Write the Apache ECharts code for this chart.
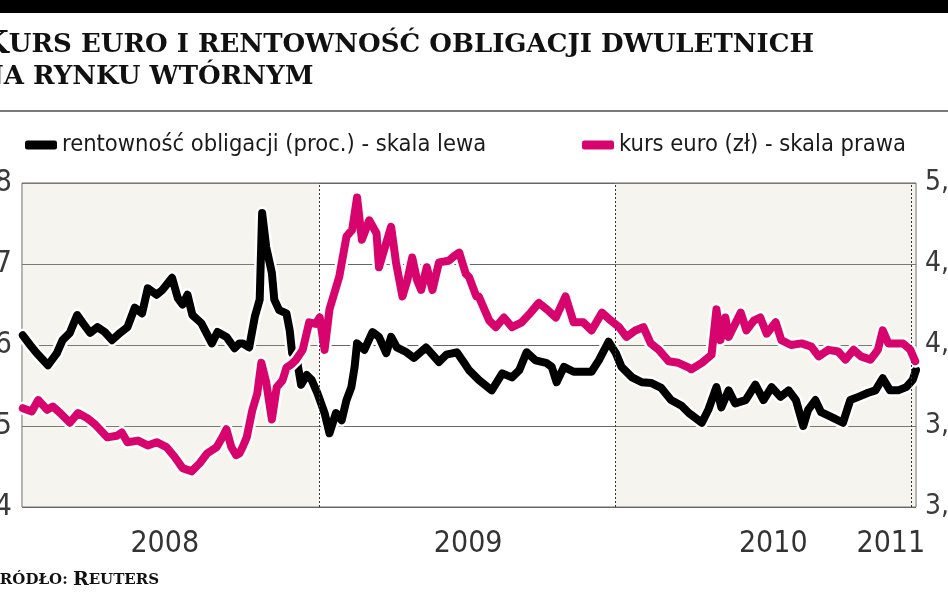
<!DOCTYPE html>
<html>
<head>
<meta charset="utf-8">
<script src="https://cdn.jsdelivr.net/npm/echarts@6/dist/echarts.min.js"></script>
<style>
html,body{margin:0;padding:0;background:#fff;}
#chart{width:948px;height:593px;}
</style>
</head>
<body>
<div id="chart"></div>
<script>
// ---- data ----
var yieldName = 'rentowność obligacji (proc.) - skala lewa';
var eurName = 'kurs euro (zł) - skala prawa';

var yieldDates = ['2008-01-02','2008-01-11','2008-01-19','2008-02-02','2008-02-13','2008-02-20','2008-02-29','2008-03-09','2008-03-16','2008-03-25',
'2008-04-03','2008-04-12','2008-04-21','2008-05-01','2008-05-10','2008-05-19','2008-05-28','2008-06-04','2008-06-15','2008-06-22',
'2008-07-04','2008-07-11','2008-07-17','2008-07-23','2008-07-29','2008-08-09','2008-08-22','2008-08-29','2008-09-09','2008-09-19',
'2008-09-25','2008-09-29','2008-10-07','2008-10-14','2008-10-20','2008-10-23','2008-10-28','2008-11-04','2008-11-07','2008-11-13',
'2008-11-22','2008-11-26','2008-11-29','2008-12-05','2008-12-10','2008-12-17','2008-12-23','2008-12-30','2009-01-08','2009-01-14',
'2009-01-22','2009-01-29','2009-02-04','2009-02-10','2009-02-14','2009-02-17','2009-02-26','2009-03-08','2009-03-16','2009-03-25',
'2009-03-31','2009-04-07','2009-04-19','2009-04-28','2009-05-13','2009-05-29','2009-06-07','2009-06-20','2009-06-29','2009-07-05',
'2009-07-17','2009-08-02','2009-08-15','2009-08-27','2009-09-05','2009-09-14','2009-09-25','2009-10-08','2009-10-15','2009-10-21',
'2009-10-30','2009-11-11','2009-11-23','2009-12-03','2009-12-12','2009-12-24','2010-01-02','2010-01-09','2010-01-22','2010-02-03',
'2010-02-15','2010-02-27','2010-03-11','2010-03-24','2010-04-02','2010-04-18','2010-04-26','2010-05-06','2010-05-12','2010-05-21',
'2010-05-29','2010-06-11','2010-06-23','2010-07-03','2010-07-13','2010-07-24','2010-08-03','2010-08-12','2010-08-21','2010-08-27',
'2010-09-05','2010-09-12','2010-09-25','2010-10-09','2010-10-18','2010-10-28','2010-11-09','2010-11-18','2010-11-27','2010-12-06',
'2010-12-16','2010-12-26','2011-01-03','2011-01-07'];
var yieldValues = [6.12,6.00,5.90,5.75,5.90,6.06,6.15,6.37,6.27,6.15,
6.22,6.16,6.06,6.15,6.22,6.46,6.39,6.70,6.62,6.68,
6.83,6.58,6.50,6.62,6.37,6.27,6.02,6.16,6.10,5.96,
6.02,6.02,5.97,6.35,6.56,7.63,7.21,6.89,6.56,6.43,
6.39,6.18,5.90,5.81,5.51,5.63,5.57,5.41,5.16,4.91,
5.16,5.07,5.32,5.48,5.73,6.02,5.94,6.16,6.10,5.90,
6.10,5.97,5.91,5.84,5.97,5.79,5.88,5.91,5.78,5.69,
5.57,5.44,5.65,5.60,5.69,5.91,5.81,5.78,5.73,5.54,
5.73,5.67,5.67,5.67,5.81,6.04,5.90,5.73,5.60,5.54,
5.53,5.47,5.32,5.25,5.16,5.04,5.20,5.48,5.23,5.44,
5.28,5.32,5.51,5.32,5.48,5.36,5.44,5.32,5.00,5.20,
5.32,5.17,5.11,5.04,5.32,5.36,5.41,5.44,5.59,5.44,
5.44,5.48,5.57,5.69];

var eurDates = ['2008-01-02','2008-01-13','2008-01-21','2008-02-01','2008-02-08','2008-02-17','2008-02-29','2008-03-10','2008-03-21','2008-03-31',
'2008-04-15','2008-04-27','2008-05-03','2008-05-10','2008-05-23','2008-06-04','2008-06-15','2008-06-27','2008-07-07','2008-07-17',
'2008-07-28','2008-08-07','2008-08-16','2008-08-28','2008-09-04','2008-09-09','2008-09-15','2008-09-21','2008-09-25','2008-09-29',
'2008-10-04','2008-10-11','2008-10-17','2008-10-22','2008-10-28','2008-11-04','2008-11-10','2008-11-17','2008-11-22','2008-11-28',
'2008-12-04','2008-12-12','2008-12-20','2008-12-28','2009-01-02','2009-01-08','2009-01-14','2009-01-20','2009-01-26','2009-02-04',
'2009-02-11','2009-02-17','2009-02-23','2009-03-04','2009-03-13','2009-03-16','2009-03-25','2009-03-31','2009-04-06','2009-04-14',
'2009-04-20','2009-04-26','2009-05-02','2009-05-07','2009-05-14','2009-05-21','2009-05-29','2009-06-10','2009-06-17','2009-06-23',
'2009-07-01','2009-07-05','2009-07-14','2009-07-17','2009-07-30','2009-08-07','2009-08-17','2009-08-27','2009-09-08','2009-09-19',
'2009-09-29','2009-10-09','2009-10-20','2009-11-01','2009-11-11','2009-11-23','2009-12-03','2009-12-16','2009-12-27','2010-01-06',
'2010-01-15','2010-01-26','2010-02-05','2010-02-14','2010-02-24','2010-03-08','2010-03-20','2010-04-02','2010-04-05','2010-04-18',
'2010-04-30','2010-05-06','2010-05-11','2010-05-17','2010-05-21','2010-05-27','2010-06-05','2010-06-12','2010-06-21','2010-06-29',
'2010-07-07','2010-07-18','2010-07-25','2010-08-06','2010-08-19','2010-08-31','2010-09-09','2010-09-21','2010-10-03','2010-10-12',
'2010-10-22','2010-10-31','2010-11-12','2010-11-21','2010-11-27','2010-12-04','2010-12-12','2010-12-22','2010-12-31','2011-01-06'];
var eurValues = [3.61,3.59,3.66,3.60,3.62,3.58,3.52,3.58,3.55,3.51,
3.43,3.44,3.46,3.40,3.41,3.38,3.40,3.37,3.31,3.24,
3.22,3.27,3.33,3.37,3.43,3.48,3.37,3.32,3.33,3.37,
3.43,3.60,3.70,3.89,3.77,3.54,3.74,3.78,3.86,3.88,
3.91,3.97,4.14,4.13,4.17,3.97,4.22,4.32,4.42,4.67,
4.71,4.91,4.65,4.77,4.69,4.48,4.63,4.73,4.51,4.30,
4.40,4.54,4.40,4.34,4.48,4.34,4.51,4.52,4.55,4.57,
4.44,4.42,4.30,4.30,4.15,4.11,4.17,4.11,4.14,4.20,
4.26,4.22,4.17,4.30,4.14,4.14,4.09,4.20,4.15,4.11,
4.05,4.09,4.11,4.01,3.97,3.90,3.89,3.86,3.85,3.89,
3.94,4.22,4.03,4.17,4.05,4.11,4.20,4.09,4.15,4.17,
4.07,4.14,4.03,4.00,4.01,3.99,3.93,3.97,3.96,3.91,
3.97,3.93,3.91,3.97,4.09,4.01,4.01,4.01,3.97,3.90];

var yearBoundaries = ['2009-01-01','2010-01-01','2011-01-01'];
var shadedYears = [['2008-01-01','2009-01-01'],['2010-01-01','2011-01-07']];
var xLabelDates = ['2008-06-25','2009-07-04','2010-07-15','2010-12-07'];
var xLabelTexts = ['2008','2009','2010','2011'];
var leftTicks = [4,5,6,7,8];
var rightTicks = ['3,0','3,5','4,0','4,5','5,0'];
var xMin = '2008-01-01', xMax = '2011-01-07';

// ---- chart ----
var NARROW = "'Liberation Sans Narrow','DejaVu Sans Condensed','Roboto',sans-serif";
var SERIF = "'DejaVu Serif','Liberation Serif',serif";
var PINK = '#d6046c';

function zip(a, b){ return a.map(function(d, i){ return [d, b[i]]; }); }
function ts(d){ return (echarts.time && echarts.time.parse) ? +echarts.time.parse(d) : +new Date(d); }
var labelTs = xLabelDates.map(ts);

function serifRich(big, small){
  return {
    b: {fontFamily: SERIF, fontWeight: 'bold', fontSize: big, fill: '#111'},
    s: {fontFamily: SERIF, fontWeight: 'bold', fontSize: small, fill: '#111'}
  };
}

var chart = echarts.init(document.getElementById('chart'), null, {renderer: 'canvas'});

var option = {
  backgroundColor: '#ffffff',
  animation: false,
  graphic: [
    {type: 'rect', x: 0, y: 0, shape: {width: 948, height: 13}, style: {fill: '#000'}, silent: true},
    {type: 'rect', x: 0, y: 110, shape: {width: 948, height: 2}, style: {fill: '#7a7a7a'}, silent: true},
    {type: 'text', x: -19, y: 61, silent: true,
      style: {text: '{b|K}{s|URS EURO I RENTOWNOŚĆ OBLIGACJI DWULETNICH}', rich: serifRich(32, 26), verticalAlign: 'bottom'}},
    {type: 'text', x: -20, y: 90, silent: true,
      style: {text: '{s|NA RYNKU WTÓRNYM}', rich: serifRich(32, 26), verticalAlign: 'bottom'}},
    {type: 'text', x: -14, y: 590, silent: true,
      style: {text: '{b|Ź}{s|RÓDŁO: }{b|R}{s|EUTERS}', rich: serifRich(19, 15), verticalAlign: 'bottom'}}
  ],
  legend: [
    {
      data: [yieldName], left: 20, top: 128, icon: 'roundRect', itemWidth: 32, itemHeight: 9, itemGap: 10,
      selectedMode: false, textStyle: {fontFamily: NARROW, fontSize: 23.5, color: '#1a1a1a'}
    },
    {
      data: [eurName], left: 577, top: 128, icon: 'roundRect', itemWidth: 32, itemHeight: 9,
      selectedMode: false, textStyle: {fontFamily: NARROW, fontSize: 23.5, color: '#1a1a1a'}
    }
  ],
  grid: {left: 22, right: 32, top: 183, bottom: 86, show: true, borderColor: '#666', borderWidth: 1,
    backgroundColor: 'transparent', containLabel: false, outerBoundsMode: 'none'},
  xAxis: [
    {
      type: 'time', min: xMin, max: xMax,
      axisLine: {show: false}, axisTick: {show: false}, splitLine: {show: false},
      axisLabel: {show: false}
    },
    {
      type: 'value', min: ts(xMin), max: ts(xMax), position: 'bottom',
      axisLine: {show: false}, axisTick: {show: false}, splitLine: {show: false},
      axisLabel: {
        customValues: labelTs,
        margin: 22, fontFamily: NARROW, fontSize: 30, color: '#333',
        formatter: function(v){
          for (var i = 0; i < labelTs.length; i++) { if (Math.abs(labelTs[i] - v) < 86400000) return xLabelTexts[i]; }
          return '';
        }
      }
    }
  ],
  yAxis: [
    {
      type: 'value', min: leftTicks[0], max: leftTicks[leftTicks.length-1], interval: 1, position: 'left',
      axisLine: {show: false}, axisTick: {show: false},
      splitLine: {show: true, lineStyle: {color: '#666', width: 1}},
      axisLabel: {margin: 10, fontFamily: NARROW, fontSize: 30, color: '#3a3a3a',
        formatter: function(v){ return String(v); }}
    },
    {
      type: 'value', min: 3, max: 5, interval: 0.5, position: 'right',
      axisLine: {show: false}, axisTick: {show: false}, splitLine: {show: false},
      axisLabel: {margin: 9, fontFamily: NARROW, fontSize: 28, color: '#3a3a3a',
        formatter: function(v){ var i = Math.round((v - 3) / 0.5); return rightTicks[i]; }}
    }
  ],
  series: [
    {
      name: 'haloY', type: 'line', xAxisIndex: 0, yAxisIndex: 0, data: zip(yieldDates, yieldValues),
      showSymbol: false, silent: true, z: 2,
      lineStyle: {color: '#ffffff', width: 13, cap: 'round', join: 'round'},
      markArea: {
        silent: true,
        itemStyle: {color: 'rgba(205,200,175,0.2)'},
        data: shadedYears.map(function(p){ return [{xAxis: p[0]}, {xAxis: p[1]}]; })
      },
      markLine: {
        silent: true, symbol: ['none', 'none'], label: {show: false},
        lineStyle: {color: '#333', width: 1, type: [2, 2]},
        data: yearBoundaries.map(function(d){ return {xAxis: d}; })
      }
    },
    {
      name: yieldName, type: 'line', xAxisIndex: 0, yAxisIndex: 0, data: zip(yieldDates, yieldValues),
      showSymbol: false, z: 3, color: '#000',
      lineStyle: {color: '#000', width: 8, cap: 'round', join: 'round'}
    },
    {
      name: 'haloE', type: 'line', xAxisIndex: 0, yAxisIndex: 1, data: zip(eurDates, eurValues),
      showSymbol: false, silent: true, z: 4,
      lineStyle: {color: '#ffffff', width: 13, cap: 'round', join: 'round'}
    },
    {
      name: eurName, type: 'line', xAxisIndex: 0, yAxisIndex: 1, data: zip(eurDates, eurValues),
      showSymbol: false, z: 5, color: PINK,
      lineStyle: {color: PINK, width: 8, cap: 'round', join: 'round'}
    }
  ]
};
chart.setOption(option);
</script>
</body>
</html>
